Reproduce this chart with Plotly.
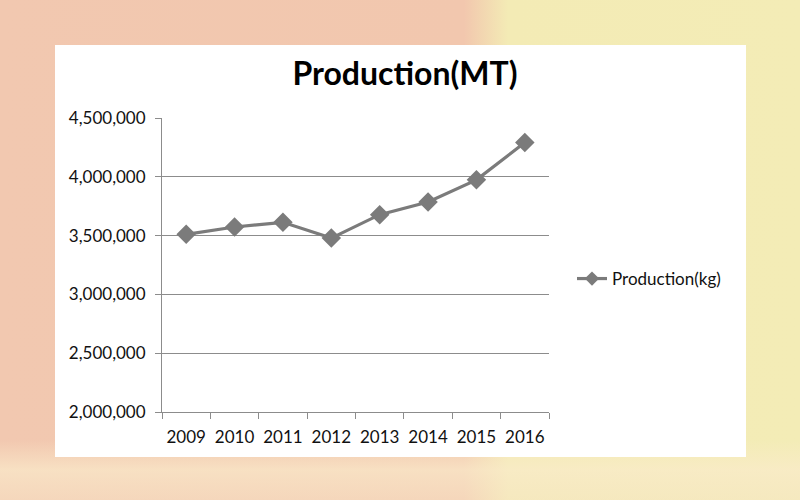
import plotly.graph_objects as go
import urllib.parse

years = ["2009", "2010", "2011", "2012", "2013", "2014", "2015", "2016"]
production = [3511000, 3573000, 3613000, 3479000, 3678000, 3786000, 3974000, 4291000]
series_name = "Production(kg)"
title_text = "Production(MT)"

W, H = 800, 500

svg = (
    '<svg xmlns="http://www.w3.org/2000/svg" width="800" height="500" preserveAspectRatio="none">'
    '<defs>'
    '<linearGradient id="g" x1="0" y1="0" x2="1" y2="0">'
    '<stop offset="0" stop-color="#F2C8B0"/>'
    '<stop offset="0.58" stop-color="#F2C7AE"/>'
    '<stop offset="0.635" stop-color="#F3EBB5"/>'
    '<stop offset="1" stop-color="#F3ECB6"/>'
    '</linearGradient>'
    '<linearGradient id="b" x1="0" y1="0" x2="0" y2="1">'
    '<stop offset="0" stop-color="#FAEBCB" stop-opacity="0"/>'
    '<stop offset="0.5" stop-color="#FAEBCB" stop-opacity="0.7"/>'
    '<stop offset="1" stop-color="#F8E6C8" stop-opacity="0.5"/>'
    '</linearGradient>'
    '</defs>'
    '<rect width="800" height="500" fill="url(#g)"/>'
    '<rect x="0" y="440" width="800" height="60" fill="url(#b)"/>'
    '</svg>'
)
bg_uri = "data:image/svg+xml;charset=utf-8," + urllib.parse.quote(svg)

gray = "#7b7b7b"
grid = "#8c8c8c"
txt = "#111111"

fig = go.Figure()
fig.add_trace(go.Scatter(
    x=years, y=production, name=series_name,
    mode="lines+markers",
    line=dict(color=gray, width=3.2),
    marker=dict(symbol="diamond", size=15, color=gray),
    showlegend=False,
))
# legend entry with the smaller legend glyph seen in the reference
fig.add_trace(go.Scatter(
    x=[None], y=[None], name=series_name,
    mode="lines+markers",
    line=dict(color=gray, width=3.2),
    marker=dict(symbol="diamond", size=11, color=gray),
    showlegend=True,
))

fig.update_layout(
    width=W, height=H,
    margin=dict(l=0, r=0, t=0, b=0, pad=0, autoexpand=False),
    paper_bgcolor="#F3E0B4",
    plot_bgcolor="rgba(0,0,0,0)",
    font=dict(family="Lato", size=17, color=txt),
    images=[dict(source=bg_uri, xref="paper", yref="paper", x=0, y=1,
                 sizex=1, sizey=1, sizing="stretch", layer="below",
                 xanchor="left", yanchor="top")],
    shapes=[dict(type="rect", xref="paper", yref="paper",
                 x0=55 / W, x1=746 / W, y0=1 - 457 / H, y1=1 - 45 / H,
                 fillcolor="white", line=dict(width=0), layer="below")],
    title=dict(text="<b>" + title_text + "</b>", x=405 / W, xanchor="center",
               y=1 - 74 / H, yanchor="middle",
               font=dict(family="Lato", size=32, color="#000000")),
    xaxis=dict(
        type="category", domain=[162 / W, 549 / W], range=[-0.5, 7.5],
        showline=True, linecolor=grid, linewidth=1,
        ticks="outside", tickson="boundaries", ticklen=6, tickcolor=grid,
        ticklabelstandoff=10, tickangle=0,
        showgrid=False, tickfont=dict(size=17, color=txt),
        anchor="y",
    ),
    yaxis=dict(
        domain=[1 - 412 / H, 1 - 118 / H], range=[2000000, 4500000],
        dtick=500000, tickformat=",",
        showline=True, linecolor=grid, linewidth=1,
        ticks="outside", ticklen=6, tickcolor=grid,
        ticklabelstandoff=6,
        showgrid=True, gridcolor=grid, gridwidth=1,
        zeroline=False, tickfont=dict(size=17, color=txt),
        anchor="x",
    ),
    legend=dict(x=572 / W, y=1 - 279 / H, xanchor="left", yanchor="middle",
                bgcolor="rgba(0,0,0,0)", font=dict(size=17, color=txt)),
)

fig.write_html("out.html")
